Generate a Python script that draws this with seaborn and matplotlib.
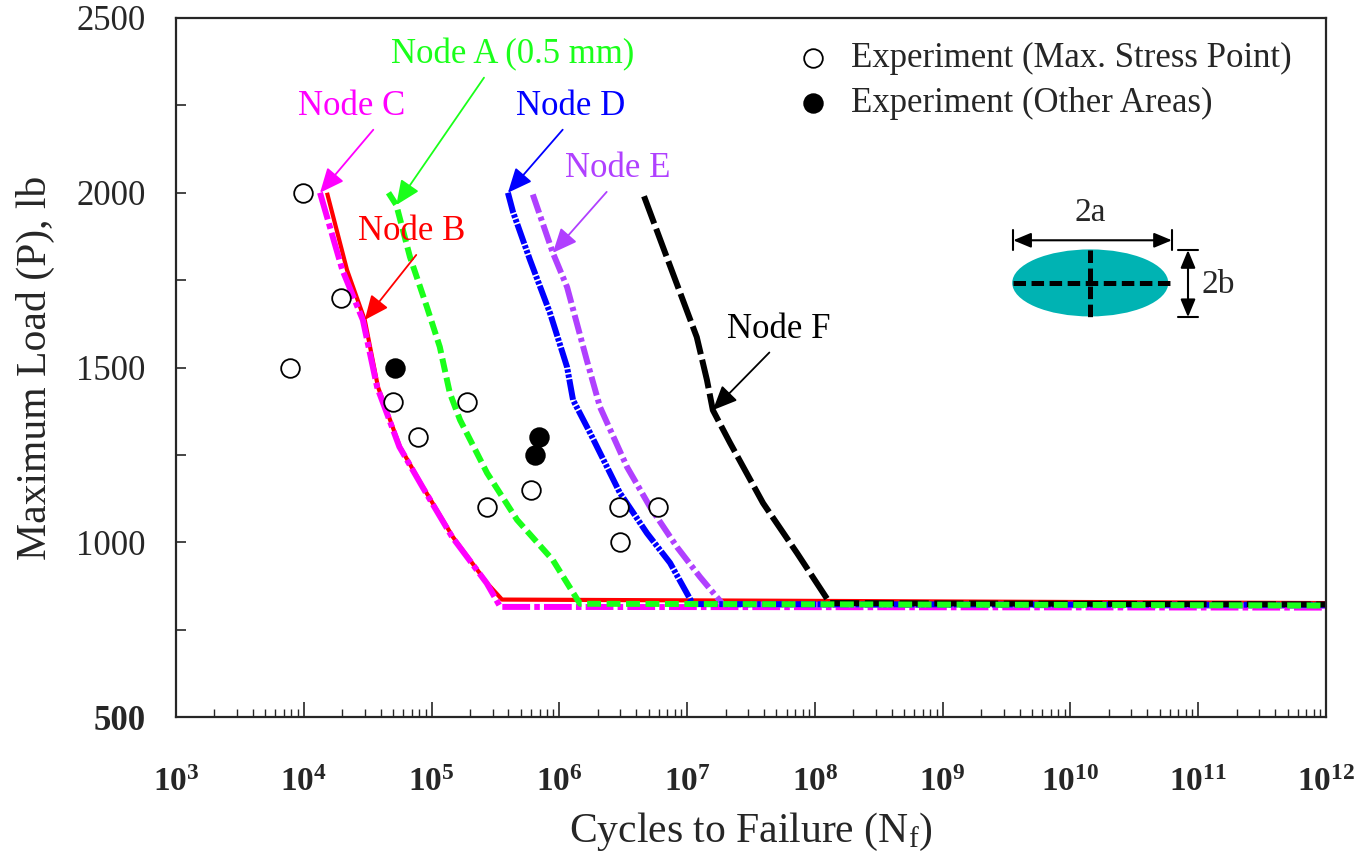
import numpy as np
import pandas as pd
import seaborn as sns
import matplotlib.pyplot as plt
from matplotlib.patches import Ellipse
from matplotlib.ticker import FixedLocator, FuncFormatter, LogLocator, NullFormatter

# Data: S-N curves per node (cycles, max load in lb)
B_cycles = [1.52e4, 2.18e4, 3.0e4, 3.81e4, 5.66e4, 8.57e4, 1.47e5, 2.72e5, 3.56e5, 1e12]
B_load = [2000, 1779, 1636, 1444, 1273, 1158, 1015, 883, 836, 826]

C_cycles = [1.34e4, 2.0e4, 2.9e4, 3.75e4, 5.6e4, 8.5e4, 1.45e5, 2.7e5, 3.45e5, 1e12]
C_load = [2000, 1780, 1636, 1444, 1273, 1158, 1015, 883, 815, 813]

A_cycles = [4.6e4, 5.3e4, 6.78e4, 9.2e4, 1.16e5, 1.39e5, 1.67e5, 2.72e5, 4.67e5, 8.9e5, 1.45e6, 1e12]
A_load = [2000, 1965, 1816, 1673, 1559, 1427, 1350, 1198, 1064, 949, 824, 819]

D_cycles = [3.96e5, 4.34e5, 5.89e5, 8.45e5, 1.15e6, 1.28e6, 1.74e6, 2.98e6, 4.85e6, 7.35e6, 1.11e7, 1e12]
D_load = [2000, 1945, 1808, 1656, 1501, 1407, 1313, 1141, 1026, 941, 823, 821]

E_cycles = [6.2e5, 8.9e5, 1.15e6, 1.64e6, 2.08e6, 3.39e6, 5.13e6, 8.34e6, 1.26e7, 1.91e7, 1e12]
E_load = [1995, 1828, 1730, 1521, 1387, 1215, 1101, 986, 901, 822, 818]

F_cycles = [4.6e6, 6.47e6, 1.19e7, 1.43e7, 1.59e7, 2.17e7, 3.93e7, 7.25e7, 1.31e8, 1e12]
F_load = [1990, 1845, 1587, 1464, 1378, 1284, 1112, 969, 826, 822]

# Experiments
open_cycles = [9.9e3, 1.95e4, 7.8e3, 5.0e4, 7.9e4, 1.89e5, 2.7e5, 6.0e5, 2.93e6, 3.0e6, 5.9e6]
open_load = [2000, 1700, 1500, 1400, 1300, 1400, 1100, 1150, 1100, 1000, 1100]
filled_cycles = [5.2e4, 6.9e5, 6.5e5]
filled_load = [1500, 1300, 1250]

decades = [10.0 ** k for k in range(3, 13)]

sns.set_style("ticks")
plt.rcParams['font.family'] = ['Liberation Serif', 'DejaVu Serif']
plt.rcParams['mathtext.fontset'] = 'custom'
plt.rcParams['mathtext.rm'] = 'Liberation Serif'
plt.rcParams['mathtext.it'] = 'Liberation Serif:italic'
plt.rcParams['mathtext.bf'] = 'Liberation Serif:bold'
plt.rcParams['lines.scale_dashes'] = False

fig = plt.figure(figsize=(13.71, 8.57), dpi=100)
ax = fig.add_axes([176 / 1371, 1 - 717 / 857, 1150 / 1371, 699 / 857])

# curves: (cycles, load, colour, linestyle, width)
curves = [
    (B_cycles, B_load, '#ff0000', '-', 3.0),
    (C_cycles, C_load, '#ff00ff', (0, (20, 3, 4, 3)), 4.3),
    (E_cycles, E_load, '#b040ff', (0, (14, 3, 3, 3)), 4.3),
    (D_cycles, D_load, '#0000ff', (0, (15, 1.2, 2.5, 1.2, 2.5, 1.2)), 4.3),
    (F_cycles, F_load, '#000000', (0, (21, 4)), 4.3),
    (A_cycles, A_load, '#1aff1a', (0, (10, 4)), 4.3),
]
for cyc, load, col, ls, lw in curves:
    sns.lineplot(x=cyc, y=load, ax=ax, color=col, linestyle=ls, lw=lw,
                 sort=False, estimator=None, solid_capstyle='butt',
                 dash_capstyle='butt')

sns.scatterplot(x=open_cycles, y=open_load, ax=ax, s=180, color='white',
                edgecolor='black', linewidth=1.3, zorder=5,
                label='Experiment (Max. Stress Point)')
sns.scatterplot(x=filled_cycles, y=filled_load, ax=ax, s=180, color='black',
                edgecolor='black', linewidth=1.3, zorder=5,
                label='Experiment (Other Areas)')

ax.set_xscale('log')
ax.set_xlim(1e3, 1e12)
ax.set_ylim(500, 2500)

ax.xaxis.set_major_locator(FixedLocator(decades))
ax.xaxis.set_minor_locator(LogLocator(base=10, subs=np.arange(2, 10), numticks=200))
ax.xaxis.set_minor_formatter(NullFormatter())
ax.xaxis.set_major_formatter(FuncFormatter(lambda v, p: r'$\mathbf{10^{%d}}$' % round(np.log10(v))))
ax.yaxis.set_major_locator(FixedLocator([500, 1000, 1500, 2000, 2500]))
ax.yaxis.set_minor_locator(FixedLocator([750, 1250, 1750, 2250]))

ax.tick_params(axis='x', which='major', direction='in', length=11, width=1.2,
               pad=36, labelsize=24, top=False)
ax.tick_params(axis='x', which='minor', direction='in', length=6, width=1.0, top=False)
ax.tick_params(axis='y', which='both', direction='in', length=7, width=1.2,
               pad=22, labelsize=25, right=False)
for lab in ax.get_yticklabels():
    if lab.get_text() == '500':
        lab.set_fontweight('bold')

for sp in ax.spines.values():
    sp.set_linewidth(1.6)
    sp.set_visible(True)

ax.set_xlabel('Cycles to Failure (N$_{\\mathrm{f}}$)', fontsize=30)
ax.set_ylabel('Maximum Load (P), lb', fontsize=30)
ax.xaxis.set_label_coords(0.5, -0.135)
ax.yaxis.set_label_coords(-0.105, 0.5)

# node labels with arrows pointing to the curves
notes = [
    ('Node C', '#ff00ff', (C_cycles[0], C_load[0]), (0.153, 0.873), 0.75),
    ('Node A (0.5 mm)', '#1aff1a', (A_cycles[1], A_load[1]), (0.293, 0.948), 0.40),
    ('Node D', '#0000ff', (D_cycles[0], D_load[0]), (0.343, 0.873), 0.48),
    ('Node E', '#b040ff', (E_cycles[1], E_load[1]), (0.384, 0.784), 0.45),
    ('Node B', '#ff0000', (B_cycles[2], B_load[2]), (0.205, 0.694), 0.59),
    ('Node F', '#000000', (F_cycles[4], F_load[4]), (0.524, 0.554), 0.47),
]
for txt, col, tip, pos, rx in notes:
    ax.annotate(txt, xy=tip, xycoords='data', xytext=pos, textcoords='axes fraction',
                ha='center', va='center', fontsize=25, color=col, zorder=6,
                arrowprops=dict(arrowstyle='-|>,head_length=0.75,head_width=0.33',
                                color=col, lw=1.3, shrinkA=3, shrinkB=0,
                                mutation_scale=20, relpos=(rx, 0)))

# crack sketch
ax.add_patch(Ellipse((0.795, 0.621), 0.1357, 0.0959, transform=ax.transAxes,
                     facecolor='#00b3b3', edgecolor='none', zorder=6))
ax.plot([0.728, 0.866], [0.621, 0.621], transform=ax.transAxes, color='black',
        lw=3.6, linestyle=(0, (9, 4)), dash_capstyle='butt', zorder=7)
ax.plot([0.795, 0.795], [0.668, 0.572], transform=ax.transAxes, color='black',
        lw=3.6, linestyle=(0, (9, 4)), dash_capstyle='butt', zorder=7)
ax.annotate('', xy=(0.866, 0.682), xytext=(0.728, 0.682), xycoords='axes fraction',
            arrowprops=dict(arrowstyle='<|-|>,head_length=0.6,head_width=0.25',
                            color='black', lw=1.5, shrinkA=0, shrinkB=0,
                            mutation_scale=18))
for xb in [0.728, 0.866]:
    ax.plot([xb, xb], [0.668, 0.696], transform=ax.transAxes, color='black', lw=1.5)
ax.annotate('', xy=(0.880, 0.572), xytext=(0.880, 0.668), xycoords='axes fraction',
            arrowprops=dict(arrowstyle='<|-|>,head_length=0.6,head_width=0.25',
                            color='black', lw=1.5, shrinkA=0, shrinkB=0,
                            mutation_scale=18))
for yb in [0.572, 0.668]:
    ax.plot([0.871, 0.889], [yb, yb], transform=ax.transAxes, color='black', lw=1.5)
ax.text(0.795, 0.722, '2a', transform=ax.transAxes, ha='center', va='center', fontsize=24)
ax.text(0.906, 0.618, '2b', transform=ax.transAxes, ha='center', va='center', fontsize=24)

ax.legend(loc='upper left', bbox_to_anchor=(0.539, 0.966), borderaxespad=0,
          borderpad=0, frameon=False, fontsize=25, handlelength=1.0,
          handletextpad=0.6, labelspacing=0.35)

fig.savefig('out.png', dpi=100)
